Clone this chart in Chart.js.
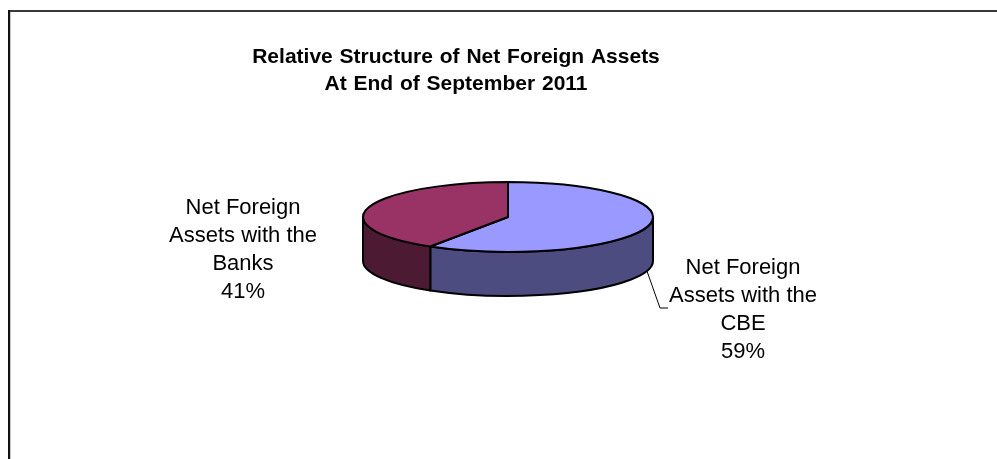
<!DOCTYPE html>
<html>
<head>
<meta charset="utf-8">
<script src="https://cdn.jsdelivr.net/npm/chart.js@4.4.1/dist/chart.umd.min.js"></script>
<style>
  html, body { margin: 0; padding: 0; background: #fff; }
  #wrap { width: 997px; height: 459px; }
</style>
</head>
<body>
<div id="wrap"><canvas id="pieChart" width="997" height="459"></canvas></div>
<script>
const titleLines = ["Relative Structure of Net Foreign Assets", "At End of September 2011"];
const categories = [
  ["Net Foreign", "Assets with the", "CBE"],
  ["Net Foreign", "Assets with the", "Banks"]
];
const shares = [59, 41];
const topColors = ["#9999ff", "#993366"];
const sideColors = ["#4c4c80", "#4d1a33"];

// flattened pie: vertical squash and wall height
const TILT = 0.241;
const DEPTH = 44;

function pct(i) {
  const total = shares.reduce((a, b) => a + b, 0);
  return Math.round(shares[i] / total * 100) + "%";
}

function drawWall(ctx, x, y, rx, ry, lo, hi, color) {
  ctx.beginPath();
  ctx.ellipse(x, y, rx, ry, 0, lo, hi);
  ctx.ellipse(x, y + DEPTH, rx, ry, 0, hi, lo, true);
  ctx.closePath();
  ctx.fillStyle = color;
  ctx.fill();
  ctx.stroke();
}

// draws the slices as a tilted 3D pie, using the arcs laid out by the controller
const pie3d = {
  id: "pie3d",
  beforeDatasetDraw(chart, args) {
    const ctx = chart.ctx;
    const arcs = args.meta.data;
    ctx.save();
    ctx.lineWidth = 2;
    ctx.strokeStyle = "#000";
    ctx.lineJoin = "round";

    // front walls (only the lower half of the rim faces us)
    arcs.forEach((arc, i) => {
      const p = arc.getProps(["x", "y", "startAngle", "endAngle", "outerRadius"], true);
      const rx = p.outerRadius, ry = p.outerRadius * TILT;
      [-2 * Math.PI, 0, 2 * Math.PI].forEach(off => {
        const lo = Math.max(p.startAngle, off);
        const hi = Math.min(p.endAngle, off + Math.PI);
        if (hi > lo) drawWall(ctx, p.x, p.y, rx, ry, lo, hi, sideColors[i]);
      });
    });

    // top faces
    arcs.forEach((arc, i) => {
      const p = arc.getProps(["x", "y", "startAngle", "endAngle", "outerRadius"], true);
      const rx = p.outerRadius, ry = p.outerRadius * TILT;
      ctx.beginPath();
      ctx.moveTo(p.x, p.y);
      ctx.ellipse(p.x, p.y, rx, ry, 0, p.startAngle, p.endAngle);
      ctx.closePath();
      ctx.fillStyle = topColors[i];
      ctx.fill();
      ctx.stroke();
    });

    ctx.restore();
    return false;
  }
};

// frame, title, slice labels and leader line
const decorations = {
  id: "decorations",
  afterDraw(chart) {
    const ctx = chart.ctx;
    const arc = chart.getDatasetMeta(0).data[0];
    const cx = arc.x, cy = arc.y, r = arc.outerRadius;
    ctx.save();

    // chart frame
    ctx.fillStyle = "#3a3a3a";
    ctx.fillRect(8, 10, 989, 2);
    ctx.fillStyle = "#111";
    ctx.fillRect(8, 10, 2, 449);
    ctx.fillStyle = "#c8c8c8";
    ctx.fillRect(10, 12, 1, 447);

    // title
    ctx.fillStyle = "#000";
    ctx.textAlign = "center";
    ctx.textBaseline = "middle";
    ctx.font = "bold 21px 'Liberation Sans', Arial, sans-serif";
    ctx.wordSpacing = "1px";
    titleLines.forEach((t, k) => ctx.fillText(t, 456, 57 + k * 27));
    ctx.wordSpacing = "0px";

    // labels
    ctx.font = "22px 'Liberation Sans', Arial, sans-serif";
    const spots = [[cx + 235, cy + 51], [cx - 265, cy - 9]];
    categories.forEach((lines, i) => {
      const [lx, ly] = spots[i];
      lines.concat([pct(i)]).forEach((t, k) => ctx.fillText(t, lx, ly + k * 28));
    });

    // leader line for the CBE slice
    const a = 0.29;
    const sx = cx + r * Math.cos(a), sy = cy + DEPTH + r * TILT * Math.sin(a);
    ctx.strokeStyle = "#000";
    ctx.lineWidth = 1;
    ctx.beginPath();
    ctx.moveTo(sx, sy);
    ctx.lineTo(cx + 152, cy + 91);
    ctx.lineTo(cx + 160, cy + 91);
    ctx.stroke();

    ctx.restore();
  }
};

new Chart(document.getElementById("pieChart"), {
  type: "pie",
  data: {
    labels: categories.map(c => c.join(" ")),
    datasets: [{ data: shares, backgroundColor: topColors, borderWidth: 0 }]
  },
  options: {
    responsive: false,
    animation: false,
    layout: { padding: { left: 363, right: 344, top: 72, bottom: 97 } },
    plugins: {
      legend: { display: false },
      tooltip: { enabled: false },
      title: { display: false }
    }
  },
  plugins: [pie3d, decorations]
});
</script>
</body>
</html>
